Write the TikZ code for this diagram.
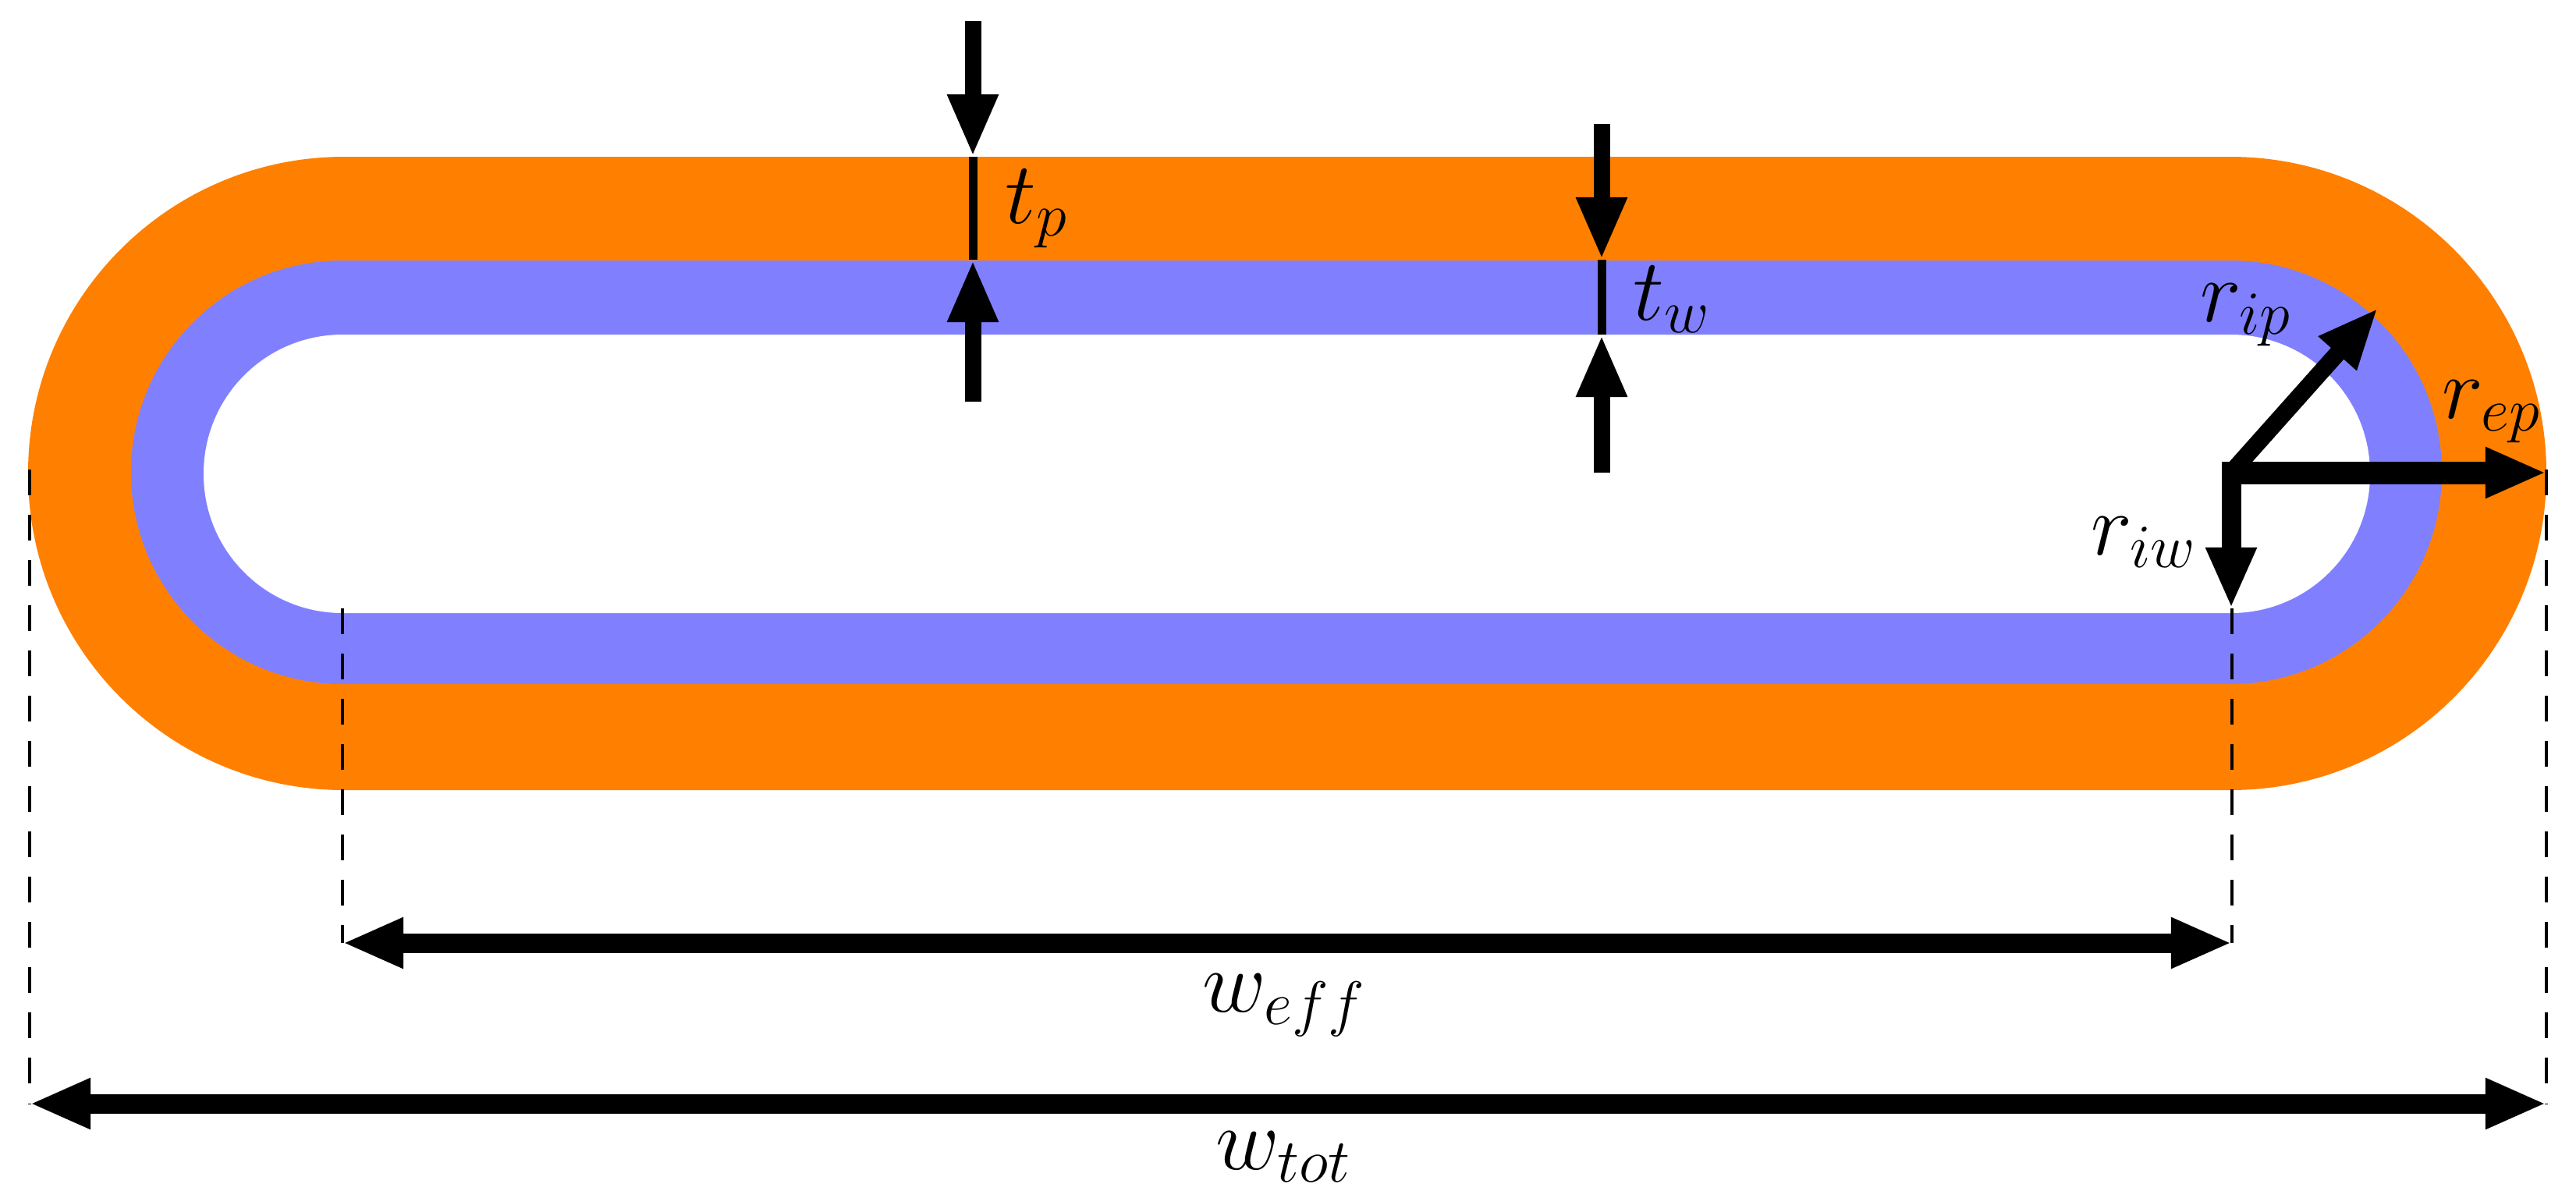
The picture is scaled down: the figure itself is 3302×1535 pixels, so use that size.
\documentclass[tikz,border=0pt]{standalone}
\usepackage{fix-cm}
\usepackage{tikz}
\usetikzlibrary{arrows.meta}

\begin{document}
\begin{tikzpicture}[x=0.01cm, y=-0.01cm,
 band/.style = {rounded corners = #1*0.01cm},
 dim/.style = {line width = 0.25cm, {Triangle[length=0.78cm,width=0.6cm]}-{Triangle[length=0.78cm,width=0.6cm]}},
 radius line/.style = {line width = 0.25cm, -{Triangle[length=0.78cm,width=0.6cm]}},
 gauge/.style = {line width = 0.21cm, -{Triangle[length=0.8cm,width=0.6cm]}},
 gauge link/.style = {line width = 0.11cm},
 guide/.style = {line width = 0.04cm, dash pattern = on 0.33cm off 0.25cm},
 lab/.style = {anchor = base west, inner sep = 0pt, font = \fontsize{32}{38}\selectfont},
 ]
 \useasboundingbox (0,0) rectangle (3302,1535);

 \fill[orange, band = 405] (36,201) rectangle (3264,1013);
 \fill[blue!50, band = 271] (168,334) rectangle (3130,877);
 \fill[white, band = 178] (261,429) rectangle (3038,786);

 \coordinate (ctr) at (2860,606);
 \coordinate (ipend) at (3048,395);
 \coordinate (epend) at (3264,606);
 \coordinate (iwend) at (2860,780);
 \coordinate (ltop) at (439,780);
 \coordinate (lbot) at (439,1209);
 \coordinate (rtop) at (2861,780);
 \coordinate (rbot) at (2861,1209);
 \coordinate (otop) at (38,602);
 \coordinate (obot) at (38,1415);
 \coordinate (ptop) at (3264,602);
 \coordinate (pbot) at (3264,1415);

 \draw[guide] (ltop) to (lbot);
 \draw[guide] (rtop) to (rbot);
 \draw[guide] (otop) to (obot);
 \draw[guide] (ptop) to (pbot);

 \draw[dim] (lbot) to (rbot);
 \draw[dim] (obot) to (pbot);

 \draw[radius line, line width = 0.22cm] (ctr) to (ipend);
 \draw[radius line, line width = 0.29cm] (ctr) to (epend);
 \draw[radius line] ([yshift=0.14cm]ctr) to (iwend);

 \coordinate (pa) at (1247,27);
 \coordinate (pb) at (1247,201);
 \coordinate (pc) at (1247,333);
 \coordinate (pd) at (1247,515);
 \coordinate (wa) at (2053,159);
 \coordinate (wb) at (2053,333);
 \coordinate (wc) at (2053,429);
 \coordinate (wd) at (2053,606);

 \draw[gauge] (pa) to (pb);
 \draw[gauge] (pd) to (pc);
 \draw[gauge link] (pb) to (pc);
 \draw[gauge] (wa) to (wb);
 \draw[gauge] (wd) to (wc);
 \draw[gauge link] (wb) to (wc);

 \node[lab] (tp) at (1288,286) {$t_p$};
 \node[lab] (tw) at (2093,410) {$t_w$};
 \node[lab] (rip) at (2820,412) {$r_{ip}$};
 \node[lab] (rep) at (3130,536) {$r_{ep}$};
 \node[lab] (riw) at (2680,711) {$r_{iw}$};
 \node[lab] (weff) at (1541,1297) {$w_{eff}$};
 \node[lab] (wtot) at (1558,1499) {$w_{tot}$};
\end{tikzpicture}
\end{document}
